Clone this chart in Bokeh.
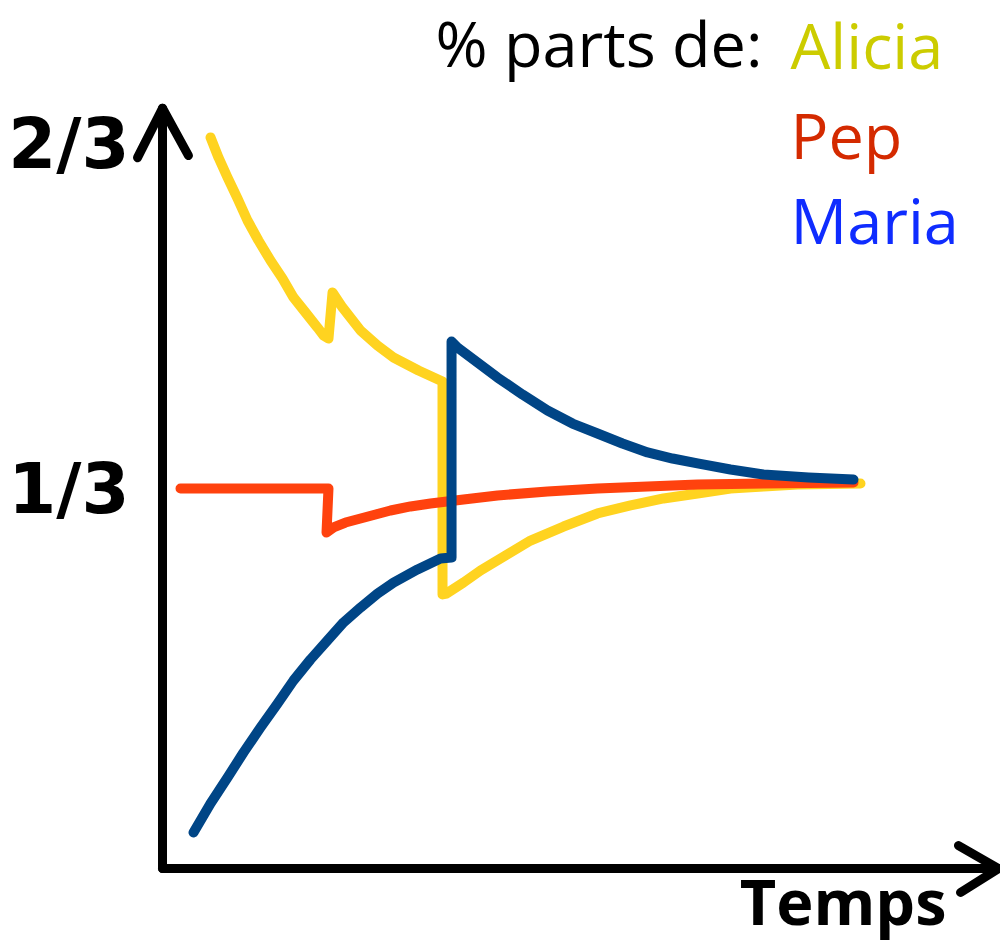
from bokeh.plotting import figure
from bokeh.models import Range1d
from bokeh.core.properties import value
from bokeh.embed import file_html
from bokeh.resources import INLINE

# ---- data (time in arbitrary units, share of parts) ----
alicia_t = [0.686, 0.800, 0.929, 1.071, 1.214, 1.371, 1.543, 1.714, 1.871, 2.043, 2.214, 2.300, 2.371,
            2.429, 2.571, 2.829, 3.071, 3.300, 3.657, 4.0,
            4.0, 4.057, 4.3, 4.543, 4.9, 5.257, 5.729, 6.214, 6.686, 7.157, 7.643, 8.114, 8.586, 9.071, 9.971]
alicia_s = [0.6696, 0.6501, 0.6307, 0.6103, 0.5889, 0.5695, 0.5500, 0.5326, 0.5141, 0.4995, 0.4849, 0.4772, 0.4742,
            0.5190, 0.5044, 0.4820, 0.4674, 0.4558, 0.4431, 0.4325,
            0.2255, 0.2264, 0.2371, 0.2488, 0.2634, 0.2779, 0.2915, 0.3042, 0.3120, 0.3188, 0.3236, 0.3285,
            0.3304, 0.3324, 0.3333]

pep_t = [0.257, 2.371, 2.343, 2.443, 2.614, 2.829, 3.043, 3.257, 3.543, 3.829, 4.3, 4.786, 5.5, 6.214,
         6.929, 7.643, 8.586, 9.871]
pep_s = [0.3285, 0.3285, 0.2857, 0.2906, 0.2954, 0.2993, 0.3032, 0.3071, 0.3110, 0.3139, 0.3178, 0.3217,
         0.3256, 0.3285, 0.3304, 0.3324, 0.3333, 0.3343]

maria_t = [0.443, 0.686, 0.929, 1.157, 1.4, 1.643, 1.871, 2.114, 2.357, 2.586, 2.829, 3.071, 3.3, 3.643,
           3.971, 4.129, 4.129, 4.214, 4.5, 4.786, 5.143, 5.5, 5.857, 6.214, 6.571, 6.929, 7.286, 7.643,
           8.114, 8.586, 9.229, 9.871]
maria_s = [-0.0058, 0.0224, 0.0476, 0.0719, 0.0962, 0.1195, 0.1419, 0.1623, 0.1808, 0.1983, 0.2128, 0.2264,
           0.2371, 0.2498, 0.2604, 0.2614, 0.4713, 0.4655, 0.4509, 0.4363, 0.4198, 0.4043, 0.3916, 0.3819,
           0.3722, 0.3635, 0.3576, 0.3528, 0.3469, 0.3421, 0.3392, 0.3372]

names = ["Alicia", "Pep", "Maria"]
line_colors = ["#ffd320", "#ff420e", "#004586"]
label_colors = ["#cccc00", "#d42a00", "#0f2cff"]

tick_labels = ["2/3", "1/3"]
tick_values = [2 / 3, 1 / 3]
x_label = "Temps"
legend_title = "% parts de:"

# axis arrows
yaxis_t = [0.0, 0.0]
yaxis_s = [-0.0408, 0.698]
yhead_t = [-0.357, 0.0, 0.371]
yhead_s = [0.650, 0.698, 0.652]
xaxis_t = [0.0, 11.943]
xaxis_s = [-0.0408, -0.0408]
xhead_t = [11.371, 11.943, 11.4]
xhead_s = [-0.0185, -0.0408, -0.0641]

W, H = 1000, 943
p = figure(width=W, height=H, output_backend="svg", toolbar_location=None,
           x_range=Range1d(-2.3143, 11.971), y_range=Range1d(-0.1137, 0.8027),
           min_border=0, x_axis_location=None, y_axis_location=None)
p.outline_line_color = None
p.grid.visible = False

# axes
for xs, ys in [(yaxis_t, yaxis_s), (yhead_t, yhead_s), (xaxis_t, xaxis_s), (xhead_t, xhead_s)]:
    p.line(xs, ys, line_width=9, line_color="black", line_cap="round", line_join="round")

# series
for xs, ys, c in [(alicia_t, alicia_s, line_colors[0]), (pep_t, pep_s, line_colors[1]),
                  (maria_t, maria_s, line_colors[2])]:
    p.line(xs, ys, line_width=10, line_color=c, line_cap="round", line_join="round")

# tick labels
p.text(x=[-0.471] * 2, y=[tick_values[0] - 0.003, tick_values[1] - 0.005], text=tick_labels,
       text_align="right", text_baseline="middle",
       text_font=value("DejaVu Sans"), text_font_style="bold", text_font_size="69px", text_color="black")

# x label
p.text(x=[11.2], y=[-0.0720], text=[x_label], text_align="right", text_baseline="middle",
       text_font=value("Open Sans"), text_font_style="bold", text_font_size="63px", text_color="black")

# legend
p.text(x=[8.571], y=[0.7620], text=[legend_title], text_align="right", text_baseline="middle",
       text_font=value("Open Sans"), text_font_size="63px", text_color="black")
p.text(x=[8.971] * 3, y=[0.7600, 0.672, 0.5894], text=names, text_align="left", text_baseline="middle",
       text_font=value("Open Sans"), text_font_size="63px", text_color=label_colors)

open("out.html", "w").write(file_html(p, INLINE))
